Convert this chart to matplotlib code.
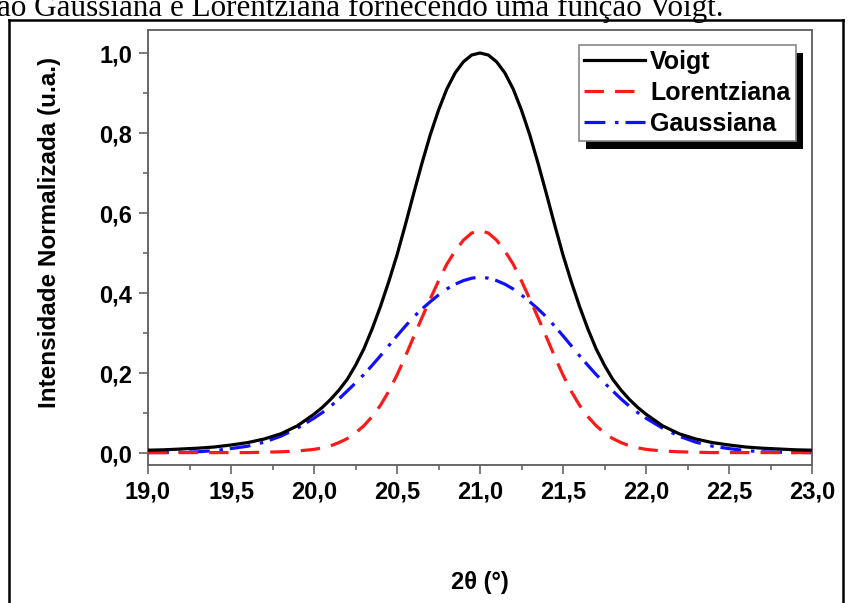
import matplotlib
matplotlib.use("Agg")
import matplotlib.pyplot as plt
from matplotlib.patches import Rectangle
from matplotlib.lines import Line2D

plt.rcParams['font.family'] = ['Liberation Sans', 'DejaVu Sans']
plt.rcParams['font.weight'] = 'bold'
plt.rcParams['lines.scale_dashes'] = False

# ---- data ----
two_theta = [19.0, 19.1, 19.2, 19.3, 19.4, 19.5, 19.6, 19.7, 19.8, 19.9,
             20.0, 20.05, 20.1, 20.15, 20.2, 20.25, 20.3, 20.35, 20.4, 20.45,
             20.5, 20.55, 20.6, 20.65, 20.7, 20.75, 20.8, 20.85, 20.9, 20.95,
             21.0, 21.05, 21.1, 21.15, 21.2, 21.25, 21.3, 21.35, 21.4, 21.45,
             21.5, 21.55, 21.6, 21.65, 21.7, 21.75, 21.8, 21.85, 21.9, 21.95,
             22.0, 22.1, 22.2, 22.3, 22.4, 22.5, 22.6, 22.7, 22.8, 22.9, 23.0]

voigt = [0.007, 0.008, 0.010, 0.012, 0.015, 0.020, 0.026, 0.035, 0.048, 0.068,
         0.097, 0.114, 0.134, 0.157, 0.184, 0.219, 0.260, 0.310, 0.366, 0.428,
         0.495, 0.570, 0.648, 0.724, 0.795, 0.857, 0.910, 0.950, 0.978, 0.995,
         1.000, 0.995, 0.978, 0.950, 0.910, 0.857, 0.795, 0.724, 0.648, 0.570,
         0.495, 0.428, 0.366, 0.310, 0.260, 0.219, 0.184, 0.157, 0.134, 0.114,
         0.097, 0.068, 0.048, 0.035, 0.026, 0.020, 0.015, 0.012, 0.010, 0.008, 0.007]

lorentziana = [0.001, 0.001, 0.001, 0.001, 0.001, 0.001, 0.001, 0.002, 0.003, 0.005,
               0.009, 0.013, 0.018, 0.026, 0.036, 0.050, 0.068, 0.091, 0.119, 0.154,
               0.195, 0.241, 0.290, 0.338, 0.385, 0.430, 0.472, 0.505, 0.532, 0.550,
               0.556, 0.550, 0.532, 0.505, 0.472, 0.430, 0.385, 0.338, 0.290, 0.241,
               0.195, 0.154, 0.119, 0.091, 0.068, 0.050, 0.036, 0.026, 0.018, 0.013,
               0.009, 0.005, 0.003, 0.002, 0.001, 0.001, 0.001, 0.001, 0.001, 0.001, 0.001]

gaussiana = [0.001, 0.001, 0.002, 0.003, 0.006, 0.011, 0.017, 0.027, 0.042, 0.062,
             0.087, 0.101, 0.117, 0.135, 0.155, 0.175, 0.196, 0.219, 0.243, 0.268,
             0.293, 0.317, 0.340, 0.360, 0.378, 0.395, 0.410, 0.422, 0.431, 0.437,
             0.440, 0.437, 0.431, 0.422, 0.410, 0.395, 0.378, 0.360, 0.340, 0.317,
             0.293, 0.268, 0.243, 0.219, 0.196, 0.175, 0.155, 0.135, 0.117, 0.101,
             0.087, 0.062, 0.042, 0.027, 0.017, 0.011, 0.006, 0.003, 0.002, 0.001, 0.001]

series_labels = ["Voigt", "Lorentziana", "Gaussiana"]
x_ticks = [19.0, 19.5, 20.0, 20.5, 21.0, 21.5, 22.0, 22.5, 23.0]
y_ticks = [0.0, 0.2, 0.4, 0.6, 0.8, 1.0]
caption = "ão Gaussiana e Lorentziana fornecendo uma função Voigt."

W, H = 851, 603
fig = plt.figure(figsize=(W / 100, H / 100), dpi=100)
fig.patch.set_facecolor('white')

# axes placement (pixels)
L, R, T, B = 148, 812, 30, 465
ax = fig.add_axes([L / W, 1 - B / H, (R - L) / W, (B - T) / H])

l_v, = ax.plot(two_theta, voigt, color='black', lw=2.3, zorder=4, label=series_labels[0])
l_l, = ax.plot(two_theta, lorentziana, color='#ff1a1a', lw=2.3, zorder=3,
               dashes=(14, 8), label=series_labels[1])
l_g, = ax.plot(two_theta, gaussiana, color='#1010ff', lw=2.3, zorder=2,
               dashes=(15, 7, 2.5, 5), label=series_labels[2])

ax.set_xlim(19.0, 23.0)
ax.set_ylim(-0.03, 1.0575)
ax.set_xticks(x_ticks)
ax.set_xticklabels([f"{v:.1f}".replace('.', ',') for v in x_ticks])
ax.set_yticks(y_ticks)
ax.set_yticklabels([f"{v:.1f}".replace('.', ',') for v in y_ticks])
ax.set_xticks([19.25 + 0.5 * i for i in range(8)], minor=True)
ax.set_yticks([0.1 + 0.2 * i for i in range(5)], minor=True)

spine_c = '#666666'
for s in ax.spines.values():
    s.set_color(spine_c)
    s.set_linewidth(1.4)
ax.tick_params(which='major', direction='out', length=6.5, width=1.2, color=spine_c,
               labelsize=17, pad=5)
ax.tick_params(which='minor', direction='out', length=3.5, width=1.2, color=spine_c)
ax.tick_params(top=False, right=False)

ax.set_xlabel("2θ (°)", fontsize=17, fontweight='bold')
ax.set_ylabel("Intensidade Normalizada (u.a.)", fontsize=17.5, fontweight='bold')
ax.xaxis.set_label_coords(0.5, (B - 583) / (B - T))
ax.yaxis.set_label_coords((50 - L) / (R - L), (B - 232) / (B - T))
ax.xaxis.label.set_va('center')
ax.yaxis.label.set_va('center')

leg = ax.legend(handles=[l_v, l_l, l_g], loc='upper left',
                bbox_to_anchor=((579 - L) / (R - L), (B - 45) / (B - T)),
                borderaxespad=0, handlelength=2.45, handletextpad=0.2,
                borderpad=0.2, labelspacing=0.28, fancybox=False, framealpha=1,
                edgecolor='#888888', prop={'weight': 'bold', 'size': 18})
leg.get_frame().set_linewidth(1.2)
leg.set_zorder(6)

# black drop shadow behind the legend
fig.canvas.draw()
bb = leg.get_window_extent()
inv = ax.transAxes.inverted()
(x0, y0), (x1, y1) = inv.transform([[bb.x0 + 7, bb.y0 - 8], [bb.x1 + 7, bb.y1 - 8]])
ax.add_patch(Rectangle((x0, y0), x1 - x0, y1 - y0, transform=ax.transAxes,
                       facecolor='black', edgecolor='none', zorder=5.5, clip_on=False))

# outer frame of the embedded figure
ftop = 1 - 20 / H
fig.add_artist(Line2D([9 / W, 9 / W], [ftop, 0], transform=fig.transFigure,
                      color='black', lw=1.8))
fig.add_artist(Line2D([843 / W, 843 / W], [ftop, 0], transform=fig.transFigure,
                      color='black', lw=1.8))
fig.add_artist(Line2D([9 / W, 843 / W], [ftop, ftop], transform=fig.transFigure,
                      color='black', lw=1.8))

# cropped caption line at top
fig.text(-3 / W, 1 - 16 / H, caption, fontsize=22.4, family=['Liberation Serif', 'DejaVu Serif'],
         fontweight='normal', va='baseline', ha='left')

fig.savefig("out.png", dpi=100, facecolor='white')
